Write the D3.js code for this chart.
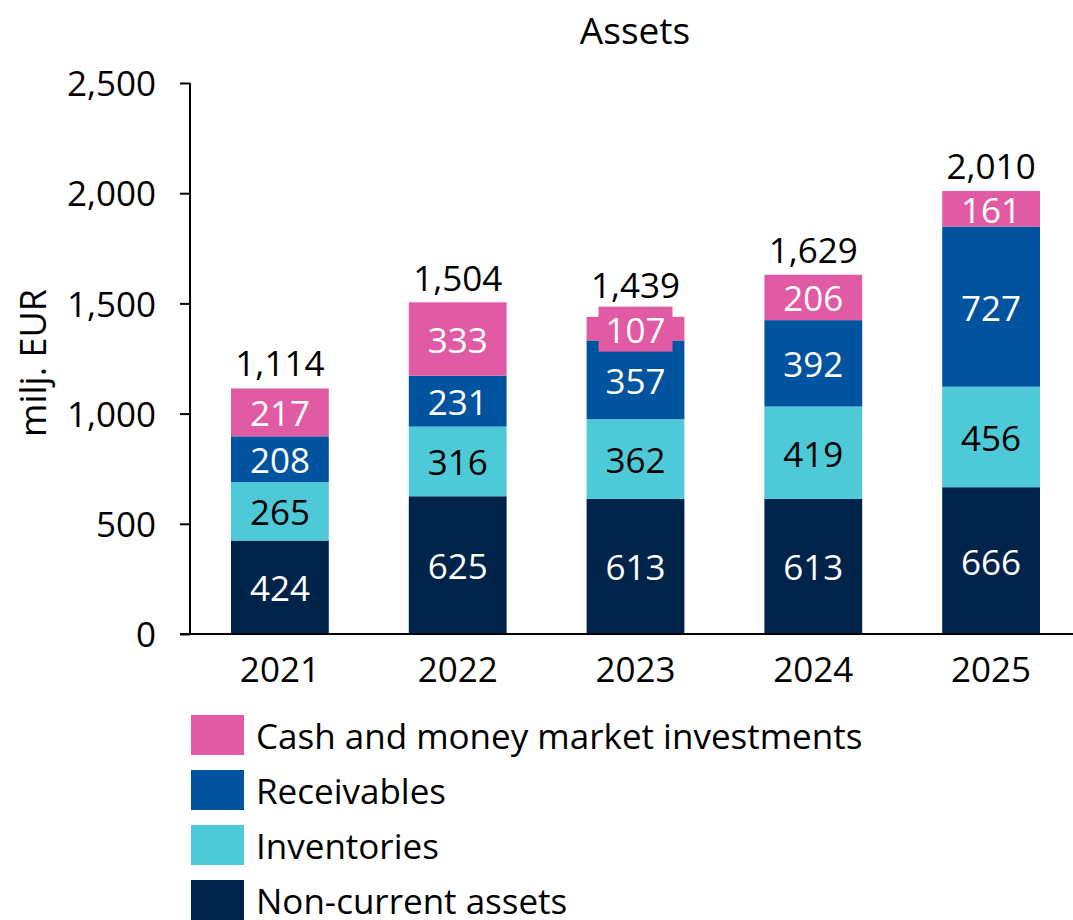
<!DOCTYPE html>
<html><head><meta charset="utf-8">
<script src="https://cdn.jsdelivr.net/npm/d3@7"></script>
<style>body{margin:0;background:#fff;} text{font-family:"Open Sans",sans-serif;}</style>
</head><body>
<svg id="c" width="1073" height="920"></svg>
<script>
const years = ["2021","2022","2023","2024","2025"];
const nonCurrent = [424,625,613,613,666];
const inventories = [265,316,362,419,456];
const receivables = [208,231,357,392,727];
const cash = [217,333,107,206,161];
const totals = [1114,1504,1439,1629,2010];
const yTicks = [0,500,1000,1500,2000,2500];
const seriesNames = ["Non-current assets","Inventories","Receivables","Cash and money market investments"];
const seriesColors = ["#00234A","#4DC9D8","#00539F","#E05BA3"];
const labelColors = ["#fff","#000","#fff","#fff"];

const FS = 35;
const svg = d3.select("#c");
const x = d3.scaleBand().domain(years).range([191,1080]).paddingInner(0.45).paddingOuter(0.225);
const y = d3.scaleLinear().domain([0,2500]).range([634,83]);

const data = years.map((yr,i)=>({year:yr, s0:nonCurrent[i], s1:inventories[i], s2:receivables[i], s3:cash[i]}));
const stack = d3.stack().keys(["s0","s1","s2","s3"])(data);

// title
svg.append("text").attr("x",635).attr("y",44).attr("text-anchor","middle").attr("font-size",37).text("Assets");

// y axis
const ya = svg.append("g").attr("transform","translate(190,0)")
  .call(d3.axisLeft(y).tickValues(yTicks).tickSize(10).tickPadding(24).tickFormat(d3.format(",")));
ya.selectAll("path,line").attr("stroke","#000").attr("stroke-width",2);
ya.select("path").attr("d","M0,83V634");
ya.selectAll("text").attr("font-size",FS).attr("fill","#000").attr("dy","0.36em");

// y label
svg.append("text").attr("transform","translate(46,363) rotate(-90)").attr("text-anchor","middle")
  .attr("font-size",36).text("milj. EUR");

// bars
const g = svg.append("g");
stack.forEach((layer,li)=>{
  g.selectAll(null).data(layer).enter().append("rect")
    .attr("x",d=>x(d.data.year)).attr("width",x.bandwidth())
    .attr("y",d=>y(d[1])).attr("height",d=>y(d[0])-y(d[1]))
    .attr("fill",seriesColors[li]);
});
// labels
const topLimit = years.map((yr,i)=>y(totals[i]));
stack.forEach((layer,li)=>{
  layer.forEach((d,i)=>{
    const cx = x(d.data.year)+x.bandwidth()/2;
    const cy = (y(d[0])+y(d[1]))/2;
    const v = d[1]-d[0];
    const t = g.append("text").attr("x",cx).attr("y",cy).attr("dy","0.4em")
      .attr("text-anchor","middle").attr("font-size",FS).attr("fill",labelColors[li]).text(v);
    if (y(d[0])-y(d[1]) < 30) {
      const bb = t.node().getBBox();
      g.insert("rect", () => t.node()).attr("x",bb.x-7).attr("y",cy-22).attr("width",bb.width+14).attr("height",45)
        .attr("fill",seriesColors[li]);
      topLimit[i] = Math.min(topLimit[i], cy-22);
    }
  });
});
// totals
g.selectAll(null).data(data).enter().append("text")
  .attr("x",(d)=>x(d.year)+x.bandwidth()/2)
  .attr("y",(d,i)=>Math.min(y(totals[i])-12, topLimit[i]-9))
  .attr("text-anchor","middle").attr("font-size",FS).text((d,i)=>d3.format(",")(totals[i]));

// x axis
const xa = svg.append("g").attr("transform","translate(0,634)").call(d3.axisBottom(x).tickSize(0).tickPadding(23));
xa.select("path").attr("stroke","#000").attr("stroke-width",2).attr("d","M180,0H1080");
xa.selectAll("text").attr("font-size",FS).attr("fill","#000").attr("dy","0.71em");

// legend
const legOrder = [3,2,1,0];
legOrder.forEach((si,k)=>{
  const ly = 715 + k*55;
  svg.append("rect").attr("x",191).attr("y",ly).attr("width",53).attr("height",40).attr("fill",seriesColors[si]);
  svg.append("text").attr("x",256).attr("y",ly+21).attr("dy","0.36em").attr("font-size",FS).text(seriesNames[si]);
});
</script>
</body></html>
